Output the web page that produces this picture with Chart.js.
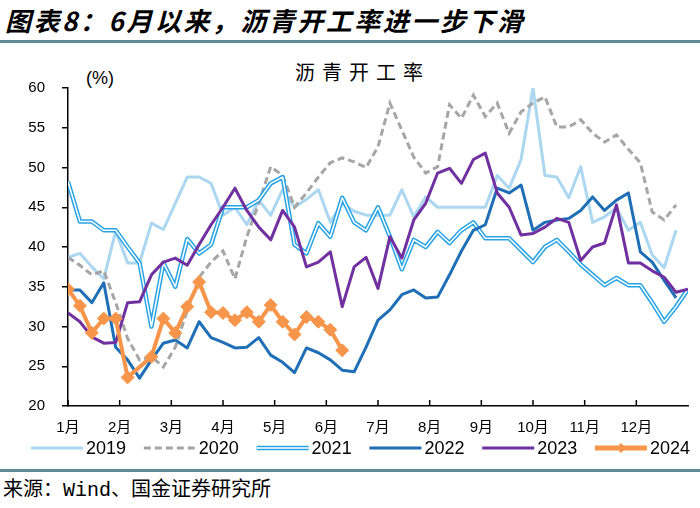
<!DOCTYPE html>
<html>
<head>
<meta charset="utf-8">
<script src="https://cdn.jsdelivr.net/npm/chart.js@4.4.0/dist/chart.umd.min.js"></script>
<style>
	body { margin: 0; width: 700px; height: 508px; background: #fff; position: relative; overflow: hidden;
		font-family: "Noto Sans CJK SC", sans-serif; color: #000; }
	.txt { position: absolute; line-height: 1; white-space: nowrap; }
	#title { left: 5px; top: 7px; font-size: 26px; font-weight: bold; font-style: italic; letter-spacing: 2.5px; }
	#chartTitle { left: 295px; top: 62px; font-size: 20px; letter-spacing: 7px; }
	#unit { left: 86px; top: 69px; font-size: 18px; font-family: "Liberation Sans", sans-serif; }
	#source { left: 3px; top: 481px; font-size: 20px; font-family: "Liberation Mono", "Noto Sans CJK SC", monospace; }
	.rule { position: absolute; left: 0; width: 700px; height: 3px; background: #5e8c98; }
	#wrap { position: absolute; left: 0; top: 45px; width: 700px; height: 420px; }
</style>
</head>
<body>
<div class="txt" id="title">图表8：6月以来，沥青开工率进一步下滑</div>
<div class="rule" style="top:40px"></div>
<div class="txt" id="chartTitle">沥青开工率</div>
<div class="txt" id="unit">(%)</div>
<div id="wrap"><canvas id="chart" width="700" height="420"></canvas></div>
<div class="rule" style="top:469px"></div>
<div class="txt" id="source">来源：Wind、国金证券研究所</div>
<script>
// weekly readings, week 0 = first week of January
var weeks = Array.from({length: 53}, function(_, i) { return i; });
var monthLabels = ['1月', '2月', '3月', '4月', '5月', '6月', '7月', '8月', '9月', '10月', '11月', '12月'];
var years = ['2019', '2020', '2021', '2022', '2023', '2024'];

var rate2019 = [38.7, 39.2, 37.5, 36, 42, 38, 38, 43, 42.2, 45.5, 48.8, 48.8, 48, 44, 45, 42.8, 45.9, 44, 47.2, 45,
	46, 47.2, 43.1, 45.5, 44.5, 44, 44, 44, 47.2, 43.8, 46.3, 45, 45, 45, 45, 45, 49, 47.4, 51, 60,
	49, 48.8, 46.2, 50.1, 43.1, 43.8, 44.9, 42.1, 43.1, 39, 37.4, 42.1];
var rate2020 = [38.7, 37.7, 36.5, 37, 33, 28.5, 25.8, 26.2, 24.9, 27.4, 32, 36.2, 38.1, 39.5, 36, 41.3, 45.5, 50.1, 49, 45,
	46.8, 48.8, 50.6, 51.2, 50.7, 50, 52.6, 58.1, 54.7, 51.3, 49.3, 50.1, 57.9, 56.2, 59.1, 56.4, 58.1, 54.3, 57, 58.1,
	58.9, 55.1, 55.1, 56, 54.3, 53.2, 54.1, 52.3, 50.6, 44.4, 43.4, 45.3];
var rate2021 = [48.2, 43.2, 43.2, 42.1, 42.1, 40, 38, 30, 38, 35, 41, 39.2, 40.3, 45, 45, 45, 45.9, 48, 48.8, 40.3,
	39.2, 43, 41.3, 46.2, 43.1, 42.1, 45, 41.3, 37.2, 40.9, 40, 41.9, 40.5, 42.1, 43.1, 41.1, 41.1, 41.1, 39.6, 38.1,
	40, 40.9, 39.4, 37.8, 36.5, 35.2, 36.1, 35.2, 35.2, 33, 30.6, 32.5, 34.7];
var rate2022 = [34.6, 34.6, 33, 35.5, 27.4, 25.8, 23.5, 25.8, 27.9, 28.3, 27.3, 30.6, 28.6, 28, 27.3, 27.4, 28.6, 26.4, 25.5, 24.2,
	27.3, 26.7, 25.8, 24.5, 24.3, 27.4, 30.8, 32.1, 34, 34.6, 33.6, 33.7, 36.5, 39.5, 42.1, 42.8, 47.4, 46.8, 47.8, 42.1,
	43.1, 43.4, 43.6, 44.6, 46.3, 44.6, 45.9, 46.8, 39.4, 38.1, 35.8, 33.6];
var rate2023 = [31.7, 30.6, 28.7, 27.9, 28, 33, 33.1, 36.5, 38.1, 38.6, 37.7, 40.3, 42.8, 45, 47.4, 44.6, 42.5, 40.9, 44.6, 42.5,
	37.5, 38.1, 39.4, 32.5, 37.5, 38.7, 34.8, 41.3, 38.6, 43.4, 45.5, 49.3, 49.9, 48, 51, 51.8, 46.8, 45, 41.5, 41.7,
	42.5, 43.6, 43.1, 38.3, 40, 40.5, 45.3, 38, 38, 37, 36.2, 34.3, 34.7];
var rate2024 = [34.7, 32.6, 29.2, 31, 31, 23.6, null, 26.2, 31, 29.2, 32.5, 35.6, 31.8, 31.7, 30.8, 31.8, 30.6, 32.7, 30.6, 29,
	31.2, 30.6, 29.6, 27];

var tickFont = {family: '"Liberation Sans", "Noto Sans CJK SC", sans-serif', size: 15};

// month boundaries on the week scale
var monthTicks = monthLabels.map(function(_, i) { return i * 52 / 12; });

// excel style "double" line: white core over the coloured stroke
var doubleLinePlugin = {
	id: 'doubleLine',
	afterDatasetDraw: function(chart, args) {
		var ds = chart.data.datasets[args.index];
		if (!ds.doubleLine) return;
		var ctx = chart.ctx, area = chart.chartArea;
		ctx.save();
		ctx.beginPath();
		ctx.rect(area.left, area.top, area.right - area.left, area.bottom - area.top);
		ctx.clip();
		ctx.beginPath();
		args.meta.data.forEach(function(pt, i) {
			if (i === 0) ctx.moveTo(pt.x, pt.y); else ctx.lineTo(pt.x, pt.y);
		});
		ctx.strokeStyle = '#fff';
		ctx.lineWidth = 1.5;
		ctx.lineJoin = 'round';
		ctx.stroke();
		ctx.restore();
	}
};

// tick marks pointing into the plot on the month axis
var monthTickPlugin = {
	id: 'monthTicks',
	afterDraw: function(chart) {
		var ctx = chart.ctx, x = chart.scales.x, bottom = chart.chartArea.bottom;
		ctx.save();
		ctx.strokeStyle = '#000';
		ctx.lineWidth = 1.5;
		x.ticks.forEach(function(t) {
			var px = x.getPixelForValue(t.value);
			ctx.beginPath();
			ctx.moveTo(px, bottom);
			ctx.lineTo(px, bottom - 6);
			ctx.stroke();
		});
		ctx.restore();
	}
};

var legendPlugin = {
	id: 'bottomLegend',
	afterDraw: function(chart) {
		var ctx = chart.ctx;
		var y = chart.height - 17;
		ctx.save();
		chart.data.datasets.forEach(function(ds, i) {
			var x0 = 31 + i * 112.8, x1 = x0 + 52;
			ctx.beginPath();
			ctx.setLineDash(ds.borderDash || []);
			ctx.strokeStyle = ds.borderColor;
			ctx.lineWidth = ds.borderWidth + (ds.pointRadius ? 1 : 0);
			ctx.moveTo(x0, y);
			ctx.lineTo(x1, y);
			ctx.stroke();
			ctx.setLineDash([]);
			if (ds.doubleLine) {
				ctx.beginPath();
				ctx.strokeStyle = '#fff';
				ctx.lineWidth = 1.5;
				ctx.moveTo(x0, y);
				ctx.lineTo(x1, y);
				ctx.stroke();
			}
			if (ds.pointRadius) {
				var mx = (x0 + x1) / 2, r = 5;
				ctx.beginPath();
				ctx.moveTo(mx - r, y);
				ctx.lineTo(mx, y - r);
				ctx.lineTo(mx + r, y);
				ctx.lineTo(mx, y + r);
				ctx.closePath();
				ctx.fillStyle = ds.borderColor;
				ctx.fill();
			}
			ctx.fillStyle = '#000';
			ctx.font = '18px "Liberation Sans", sans-serif';
			ctx.textBaseline = 'middle';
			ctx.fillText(ds.label, x1 + 3, y + 1);
		});
		ctx.restore();
	}
};

function lineSet(label, data, color, width, order) {
	return {
		label: label,
		data: data,
		borderColor: color,
		backgroundColor: color,
		borderWidth: width,
		pointRadius: 0,
		tension: 0,
		borderJoinStyle: 'round',
		order: order
	};
}

var set2019 = lineSet(years[0], rate2019, '#abd7f0', 3, 6);
var set2020 = lineSet(years[1], rate2020, '#a6a6a6', 3, 5);
set2020.borderDash = [7, 4];
set2020.borderJoinStyle = 'miter';
var set2021 = lineSet(years[2], rate2021, '#27a3e3', 4.5, 4);
set2021.doubleLine = true;
var set2022 = lineSet(years[3], rate2022, '#1f6fb6', 3, 3);
var set2023 = lineSet(years[4], rate2023, '#7030a0', 3, 2);
var set2024 = lineSet(years[5], rate2024, '#f7964a', 4, 1);
set2024.pointRadius = 6.5;
set2024.pointStyle = 'rectRot';
set2024.pointBorderWidth = 1;
set2024.spanGaps = true;

new Chart(document.getElementById('chart'), {
	type: 'line',
	data: {
		labels: weeks,
		datasets: [set2019, set2020, set2021, set2022, set2023, set2024]
	},
	plugins: [doubleLinePlugin, monthTickPlugin, legendPlugin],
	options: {
		responsive: false,
		animation: false,
		layout: { padding: { top: 43, right: 12, bottom: 29, left: 0 } },
		plugins: {
			legend: { display: false },
			title: { display: false },
			tooltip: { enabled: false }
		},
		scales: {
			x: {
				type: 'linear',
				min: 0,
				max: 52,
				afterBuildTicks: function(scale) {
					scale.ticks = monthTicks.map(function(v) { return {value: v}; });
				},
				afterFit: function(scale) { scale.height = 30; },
				ticks: {
					autoSkip: false,
					maxRotation: 0,
					padding: 13,
					color: '#000',
					font: tickFont,
					callback: function(value, index) { return monthLabels[index]; }
				},
				grid: { display: true, drawOnChartArea: false, drawTicks: false },
				border: { display: true, color: '#000', width: 1.5 }
			},
			y: {
				min: 20,
				max: 60,
				afterFit: function(scale) { scale.width = 68; },
				ticks: { stepSize: 5, padding: 17, color: '#000', font: tickFont },
				grid: { display: true, drawOnChartArea: false, drawTicks: true, tickLength: 6, color: '#000', lineWidth: 1.5 },
				border: { display: true, color: '#000', width: 1.5 }
			}
		}
	}
});
</script>
</body>
</html>
